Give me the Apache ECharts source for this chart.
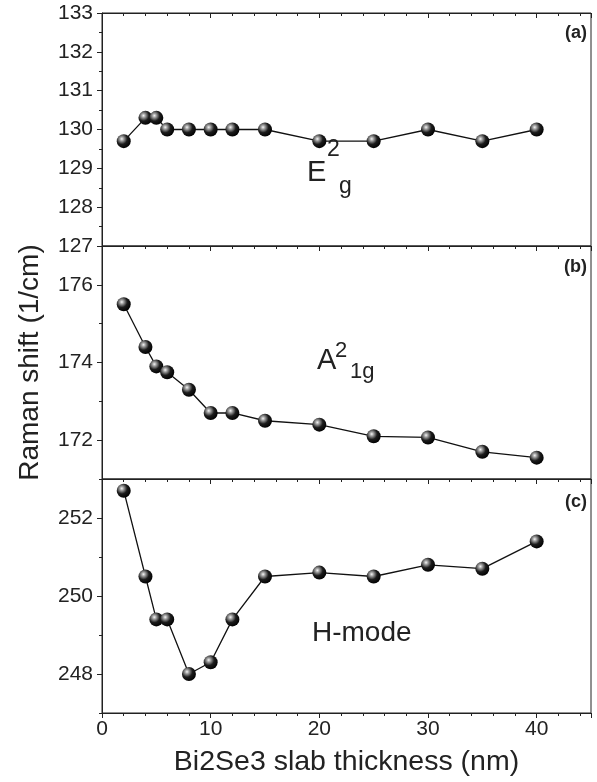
<!DOCTYPE html>
<html>
<head>
<meta charset="utf-8">
<script src="https://cdn.jsdelivr.net/npm/echarts@6/dist/echarts.min.js"></script>
<style>
  html, body { margin: 0; padding: 0; background: #fff; }
  #main { width: 597px; height: 782px; }
</style>
</head>
<body>
<div id="main"></div>
<script>
// slab thickness (nm)
var thickness = [2, 4, 5, 6, 8, 10, 12, 15, 20, 25, 30, 35, 40];
// Raman shifts (1/cm)
var e2g   = [129.7, 130.3, 130.3, 130.0, 130.0, 130.0, 130.0, 130.0, 129.7, 129.7, 130.0, 129.7, 130.0];
var a1g   = [175.5, 174.4, 173.9, 173.75, 173.3, 172.7, 172.7, 172.5, 172.4, 172.1, 172.07, 171.7, 171.55];
var hmode = [252.7, 250.5, 249.4, 249.4, 248.0, 248.3, 249.4, 250.5, 250.6, 250.5, 250.8, 250.7, 251.4];
// labelled ticks of panels b and c
var bTicks = [172, 174, 176];
var cTicks = [248, 250, 252];

var FONT = 'Liberation Sans, Arial, Helvetica, sans-serif';
var INK = '#222';

var myChart = echarts.init(document.getElementById('main'));

var ball = {
    type: 'radial', x: 0.36, y: 0.34, r: 0.7,
    colorStops: [
        { offset: 0, color: '#f6f6f6' },
        { offset: 0.2, color: '#a0a0a0' },
        { offset: 0.55, color: '#1c1c1c' },
        { offset: 1, color: '#000' }
    ]
};

function pairs(ys) {
    return thickness.map(function (x, i) { return [x, ys[i]]; });
}

function xAx(grid, showLabel) {
    return {
        type: 'value', gridIndex: grid, min: 0, max: 45, interval: 10, position: 'bottom',
        axisLine: { lineStyle: { color: INK, width: 1 } },
        axisTick: { show: true, length: 5, lineStyle: { color: INK } },
        minorTick: { show: true, splitNumber: 5, length: 3, lineStyle: { color: INK } },
        splitLine: { show: false },
        axisLabel: { show: showLabel, showMaxLabel: false, color: INK, fontSize: 21, fontFamily: FONT, margin: 6 }
    };
}

var xAxes = [xAx(0, false), xAx(1, false), xAx(2, true)];
xAxes[2].name = 'Bi2Se3 slab thickness (nm)';
xAxes[2].nameLocation = 'middle';
xAxes[2].nameGap = 35;
xAxes[2].nameTextStyle = { color: INK, fontSize: 28.5, fontFamily: FONT };
// ticks on top edge of panel a
xAxes.push({
    type: 'value', gridIndex: 0, min: 0, max: 45, interval: 10, position: 'top',
    axisLine: { lineStyle: { color: INK } },
    axisTick: { inside: true, length: 5, lineStyle: { color: INK } },
    minorTick: { show: true, splitNumber: 5, length: 3, lineStyle: { color: INK } },
    splitLine: { show: false },
    axisLabel: { show: false }
});

var yLabel = { color: INK, fontSize: 21, fontFamily: FONT, margin: 9 };

var yAxes = [
    {
        type: 'value', gridIndex: 0, min: 127, max: 133, interval: 1, position: 'left',
        axisLine: { show: true, lineStyle: { color: INK } },
        axisTick: { show: true, length: 5, lineStyle: { color: INK } },
        minorTick: { show: true, splitNumber: 2, length: 3, lineStyle: { color: INK } },
        splitLine: { show: false },
        axisLabel: yLabel
    },
    {
        type: 'value', gridIndex: 1, min: 171, max: 177, interval: 1, position: 'left',
        axisLine: { show: true, lineStyle: { color: INK } },
        axisTick: { show: true, length: 5, customValues: bTicks, lineStyle: { color: INK } },
        splitLine: { show: false },
        axisLabel: Object.assign({ customValues: bTicks }, yLabel),
        name: 'Raman shift (1/cm)', nameLocation: 'middle', nameGap: 58,
        nameTextStyle: { color: INK, fontSize: 28, fontFamily: FONT }
    },
    {
        type: 'value', gridIndex: 2, min: 247, max: 253, interval: 1, position: 'left',
        axisLine: { show: true, lineStyle: { color: INK } },
        axisTick: { show: true, length: 5, customValues: cTicks, lineStyle: { color: INK } },
        splitLine: { show: false },
        axisLabel: Object.assign({ customValues: cTicks }, yLabel)
    },
    // short ticks for b and c
    {
        type: 'value', gridIndex: 1, min: 171, max: 177, interval: 1, position: 'left', offset: 0,
        axisLine: { show: false }, axisLabel: { show: false }, splitLine: { show: false },
        axisTick: { show: true, length: 3, lineStyle: { color: INK } }
    },
    {
        type: 'value', gridIndex: 2, min: 247, max: 253, interval: 1, position: 'left', offset: 0,
        axisLine: { show: false }, axisLabel: { show: false }, splitLine: { show: false },
        axisTick: { show: true, length: 3, lineStyle: { color: INK } }
    }
];

function line(ys, gi) {
    return {
        type: 'line', xAxisIndex: gi, yAxisIndex: gi, data: pairs(ys),
        symbol: 'circle', symbolSize: 14,
        itemStyle: { color: ball, borderWidth: 0 },
        lineStyle: { color: '#111', width: 1.3 },
        emphasis: { disabled: true },
        animation: false
    };
}

// y is the top of the text box
function txt(s, x, y, size, opts) {
    return {
        type: 'text', z: 10,
        style: {
            text: s, x: x, y: y, fill: INK,
            font: (opts && opts.bold ? 'bold ' : '') + size + 'px ' + FONT,
            textAlign: (opts && opts.align) || 'left'
        }
    };
}

var boxGrid = { show: true, borderColor: INK, borderWidth: 1, left: 102, right: 6 };

option = {
    backgroundColor: '#fff',
    animation: false,
    grid: [
        Object.assign({ top: 13, height: 233 }, boxGrid),
        Object.assign({ top: 246, height: 233 }, boxGrid),
        Object.assign({ top: 479, height: 234 }, boxGrid)
    ],
    xAxis: xAxes,
    yAxis: yAxes,
    series: [line(e2g, 0), line(a1g, 1), line(hmode, 2)],
    graphic: [
        txt('(a)', 587, 24, 18, { bold: true, align: 'right' }),
        txt('(b)', 587, 258, 18, { bold: true, align: 'right' }),
        txt('(c)', 587, 493, 18, { bold: true, align: 'right' }),
        txt('E', 307, 158, 29),
        txt('2', 327, 138, 23),
        txt('g', 339, 175, 23),
        txt('A', 317, 346, 29),
        txt('2', 335, 340, 22),
        txt('1g', 350, 361, 22),
        txt('H-mode', 312, 619, 28)
    ]
};
myChart.setOption(option);
</script>
</body>
</html>
